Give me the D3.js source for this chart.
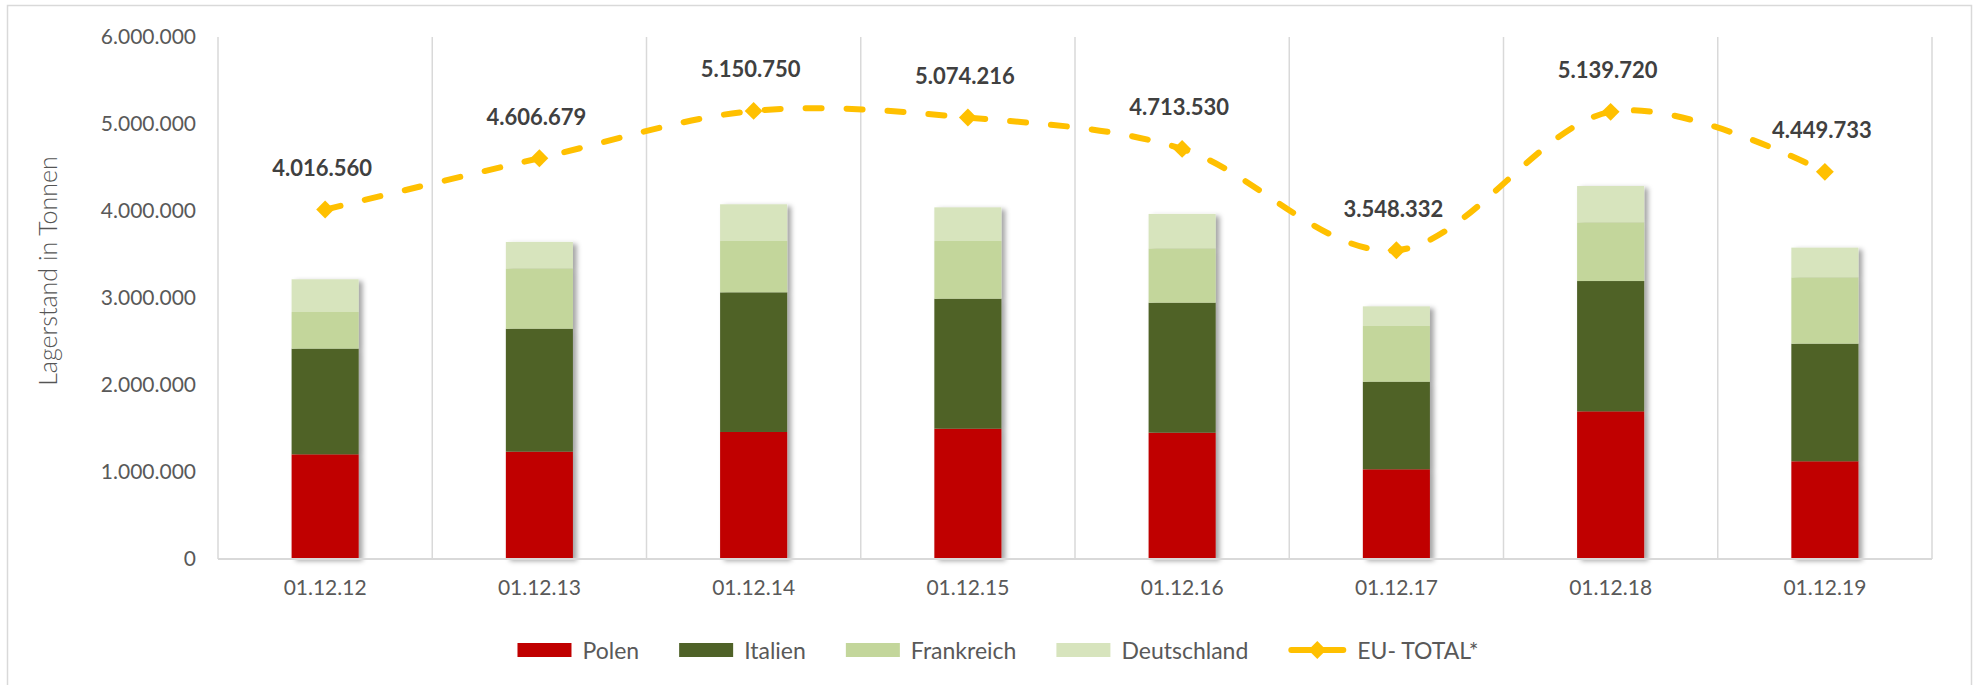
<!DOCTYPE html>
<html>
<head>
<meta charset="utf-8">
<script src="https://cdn.jsdelivr.net/npm/d3@7"></script>
<style>
  html, body { margin: 0; padding: 0; background: #fff; }
  svg { display: block; font-family: Lato, "Open Sans", sans-serif; }
</style>
</head>
<body>
<svg id="chart" width="1977" height="685"></svg>
<script>
// stock per reference date (tonnes)
var categories = ["01.12.12", "01.12.13", "01.12.14", "01.12.15", "01.12.16", "01.12.17", "01.12.18", "01.12.19"];
var polen       = [1203000, 1234000, 1460000, 1498000, 1452000, 1031000, 1697000, 1123000];
var italien     = [1215000, 1413000, 1605000, 1494000, 1494000, 1007000, 1498000, 1352000];
var frankreich  = [421000, 694000, 590000, 663000, 625000, 640000, 675000, 763000];
var deutschland = [376000, 303000, 422000, 387000, 395000, 226000, 417000, 341000];
var euTotal     = [4016560, 4606679, 5150750, 5074216, 4713530, 3548332, 5139720, 4449733];
var yTicks      = [0, 1000000, 2000000, 3000000, 4000000, 5000000, 6000000];

var seriesNames = ["Polen", "Italien", "Frankreich", "Deutschland"];
var seriesColors = ["#C00000", "#4F6228", "#C3D69B", "#D7E4BD"];
var lineName = "EU- TOTAL*";
var lineColor = "#FFC000";

var deFormat = d3.formatLocale({decimal: ",", thousands: ".", grouping: [3], currency: ["", " €"]}).format(",d");

var svg = d3.select("#chart");
var plotLeft = 218, plotRight = 1932, plotTop = 37, plotBottom = 559;

// chart area border
svg.append("rect")
	.attr("x", 7.5).attr("y", 5.5)
	.attr("width", 1964).attr("height", 720)
	.attr("fill", "#fff")
	.attr("stroke", "#D9D9D9").attr("stroke-width", 1.5);

var defs = svg.append("defs");
var shadow = defs.append("filter").attr("id", "shadow")
	.attr("x", "-20%").attr("y", "-5%").attr("width", "150%").attr("height", "115%");
shadow.append("feDropShadow")
	.attr("dx", 4).attr("dy", 2).attr("stdDeviation", 2.5)
	.attr("flood-color", "#000").attr("flood-opacity", 0.35);

var xScale = d3.scaleBand().domain(categories).range([plotLeft, plotRight]).padding(0);
var yScale = d3.scaleLinear().domain([0, 6000000]).range([plotBottom, plotTop]);
var barW = xScale.bandwidth() * 0.313;

// vertical gridlines at category borders
var borders = categories.map(function(c){ return xScale(c); }).concat([plotRight]);
svg.append("g").selectAll("line.grid")
	.data(borders)
	.enter().append("line")
	.attr("class", "grid")
	.attr("x1", function(d){ return d; }).attr("x2", function(d){ return d; })
	.attr("y1", plotTop).attr("y2", plotBottom)
	.attr("stroke", "#D9D9D9").attr("stroke-width", 1.5);

// stacked columns
var rows = categories.map(function(c, i){
	return {cat: c, Polen: polen[i], Italien: italien[i], Frankreich: frankreich[i], Deutschland: deutschland[i]};
});
var stacked = d3.stack().keys(seriesNames)(rows);

var columns = svg.append("g").selectAll("g.col")
	.data(categories)
	.enter().append("g")
	.attr("class", "col")
	.attr("filter", "url(#shadow)");

columns.selectAll("rect")
	.data(function(c, i){ return stacked.map(function(s, k){ return {seg: s[i], color: seriesColors[k]}; }); })
	.enter().append("rect")
	.attr("x", function(d){ return xScale(d.seg.data.cat) + (xScale.bandwidth() - barW) / 2; })
	.attr("width", barW)
	.attr("y", function(d){ return yScale(d.seg[1]); })
	.attr("height", function(d){ return yScale(d.seg[0]) - yScale(d.seg[1]); })
	.attr("fill", function(d){ return d.color; });

// x axis line
svg.append("line")
	.attr("x1", plotLeft).attr("x2", plotRight)
	.attr("y1", plotBottom).attr("y2", plotBottom)
	.attr("stroke", "#D9D9D9").attr("stroke-width", 2);

// y axis labels
var yAxis = svg.append("g")
	.attr("transform", "translate(" + (plotLeft - 22) + ",0)")
	.call(d3.axisLeft(yScale).tickValues(yTicks).tickFormat(deFormat).tickSize(0).tickPadding(0));
yAxis.select(".domain").remove();
yAxis.selectAll("text")
	.attr("font-family", "Lato, sans-serif")
	.attr("font-size", 21).attr("fill", "#595959");

// x axis labels
var xAxis = svg.append("g")
	.attr("transform", "translate(0," + plotBottom + ")")
	.call(d3.axisBottom(xScale).tickSize(0).tickPadding(21));
xAxis.select(".domain").remove();
xAxis.selectAll("text")
	.attr("font-family", "Lato, sans-serif")
	.attr("font-size", 21).attr("fill", "#595959");

// y axis title
svg.append("text")
	.attr("transform", "translate(47,271) rotate(-90)")
	.attr("text-anchor", "middle")
	.attr("dominant-baseline", "central")
	.attr("font-family", "Lato, sans-serif")
	.attr("font-weight", 300)
	.attr("font-size", 25).attr("fill", "#555")
	.text("Lagerstand in Tonnen");

// EU total line
var cx = function(i){ return xScale(categories[i]) + xScale.bandwidth() / 2; };
var line = d3.line()
	.x(function(d, i){ return cx(i); })
	.y(function(d){ return yScale(d); })
	.curve(d3.curveCardinal.tension(0));

svg.append("path")
	.attr("d", line(euTotal))
	.attr("fill", "none")
	.attr("stroke", lineColor).attr("stroke-width", 6)
	.attr("stroke-linecap", "round")
	.attr("stroke-dasharray", "16,25");

var diamond = d3.symbol().type(d3.symbolSquare).size(160);
svg.append("g").selectAll("path.marker")
	.data(euTotal)
	.enter().append("path")
	.attr("class", "marker")
	.attr("d", diamond)
	.attr("transform", function(d, i){ return "translate(" + cx(i) + "," + yScale(d) + ") rotate(45)"; })
	.attr("fill", lineColor);

svg.append("g").selectAll("text.lbl")
	.data(euTotal)
	.enter().append("text")
	.attr("class", "lbl")
	.attr("x", function(d, i){ return cx(i) - 3; })
	.attr("y", function(d){ return yScale(d) - 42; })
	.attr("text-anchor", "middle")
	.attr("dominant-baseline", "central")
	.attr("font-family", "Lato, sans-serif")
	.attr("font-weight", 700)
	.attr("font-size", 22).attr("fill", "#404040")
	.text(function(d){ return deFormat(d); });

// legend
var legend = svg.append("g");
var legendItems = seriesNames.map(function(n, k){ return {name: n, color: seriesColors[k], type: "box"}; })
	.concat([{name: lineName, color: lineColor, type: "line"}]);
var lx = 0;
legendItems.forEach(function(it){
	var g = legend.append("g").attr("transform", "translate(" + lx + ",0)");
	if(it.type == "box"){
		g.append("rect").attr("x", 0).attr("y", -7).attr("width", 54).attr("height", 14).attr("fill", it.color);
	}
	else{
		g.append("line").attr("x1", 3).attr("x2", 55).attr("y1", 0).attr("y2", 0)
			.attr("stroke", it.color).attr("stroke-width", 6).attr("stroke-linecap", "round");
		g.append("path").attr("d", diamond).attr("transform", "translate(29,0) rotate(45)").attr("fill", it.color);
	}
	var t = g.append("text")
		.attr("x", it.type == "box" ? 65 : 69).attr("y", 0)
		.attr("dominant-baseline", "central")
		.attr("font-family", "Lato, sans-serif")
		.attr("font-size", 23).attr("fill", "#595959")
		.text(it.name);
	lx += (it.type == "box" ? 65 : 69) + t.node().getComputedTextLength() + 40;
});
var legendW = lx - 40;
legend.attr("transform", "translate(" + (998 - legendW / 2) + ",650)");
</script>
</body>
</html>
